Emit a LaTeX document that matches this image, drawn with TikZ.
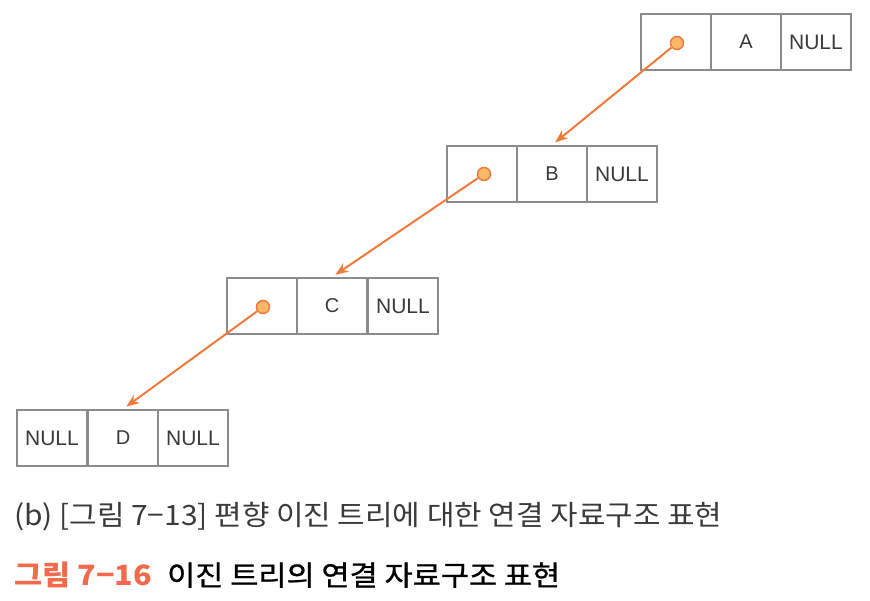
\documentclass[tikz,border=0pt]{standalone}
\usepackage{fontspec}
\setmainfont{Liberation Sans}
\newfontfamily\kr{Noto Sans CJK KR}
\newfontfamily\krmed[FakeBold=0.9]{Noto Sans CJK KR}
\usetikzlibrary{arrows.meta}
\definecolor{boxgray}{HTML}{8C8C8C}
\definecolor{txtgray}{HTML}{3A3A3A}
\definecolor{arrorange}{HTML}{EE7B3C}
\definecolor{dotfill}{HTML}{F9B768}
\definecolor{capred}{HTML}{F26A4C}
\newsavebox\capboxA
\newsavebox\capboxB
\tikzset{
  cell/.style={draw=boxgray, line width=2pt, rectangle, minimum width=70pt, minimum height=56pt, inner sep=0pt, text=txtgray, font=\fontsize{20}{22}\selectfont},
  nullcell/.style={cell, font=\fontsize{21}{23}\selectfont},
  ptrdot/.style={circle, draw=arrorange, fill=dotfill, line width=1.5pt, minimum size=13pt, inner sep=0pt},
  ptrarrow/.style={draw=arrorange, line width=2pt, -{Stealth[length=13pt,width=10pt]}, shorten >=4pt},
  caption/.style={anchor=west, inner sep=0pt}
}
\begin{document}
\sbox\capboxA{\kr\fontsize{28}{32}\selectfont\color{txtgray}(b) [그림 7−13] 편향 이진 트리에 대한 연결 자료구조 표현}
\sbox\capboxB{\fontsize{28}{32}\selectfont\textcolor{capred}{\kr\bfseries 그림 7−16}\hspace{0.5em}{\krmed 이진 트리의 연결 자료구조 표현}}
\pgfmathsetmacro\scA{708/\wd\capboxA}
\pgfmathsetmacro\scB{546/\wd\capboxB}
\begin{tikzpicture}[x=1pt,y=-1pt]
\useasboundingbox (0,0) rectangle (870,600);
% A
\node[cell] (a1) at (676,42) {};
\node[cell] (a2) at (746,42) {A};
\node[nullcell] (a3) at (816,42) {NULL};
% B
\node[cell] (b1) at (482,174) {};
\node[cell] (b2) at (552,174) {B};
\node[nullcell] (b3) at (622,174) {NULL};
% C
\node[cell] (c1) at (262,306) {};
\node[cell] (c2) at (332,306) {C};
\node[nullcell] (c3) at (403,306) {NULL};
% D
\node[nullcell] (d1) at (52,438) {NULL};
\node[cell] (d2) at (123,438) {D};
\node[nullcell] (d3) at (193,438) {NULL};
% dots
\node[ptrdot] (pa) at (677,43) {};
\node[ptrdot] (pb) at (484,174) {};
\node[ptrdot] (pc) at (263,307) {};
% arrows
\draw[ptrarrow] (pa) -- (b2.north);
\draw[ptrarrow] (pb) -- (c2.north);
\draw[ptrarrow] (pc) -- (d2.north);
% captions
\node[caption] (cap1) at (14,517) {\scalebox{\scA}[1]{\usebox\capboxA}};
\node[caption] (cap2) at (14,575) {\scalebox{\scB}[1]{\usebox\capboxB}};
\end{tikzpicture}
\end{document}
